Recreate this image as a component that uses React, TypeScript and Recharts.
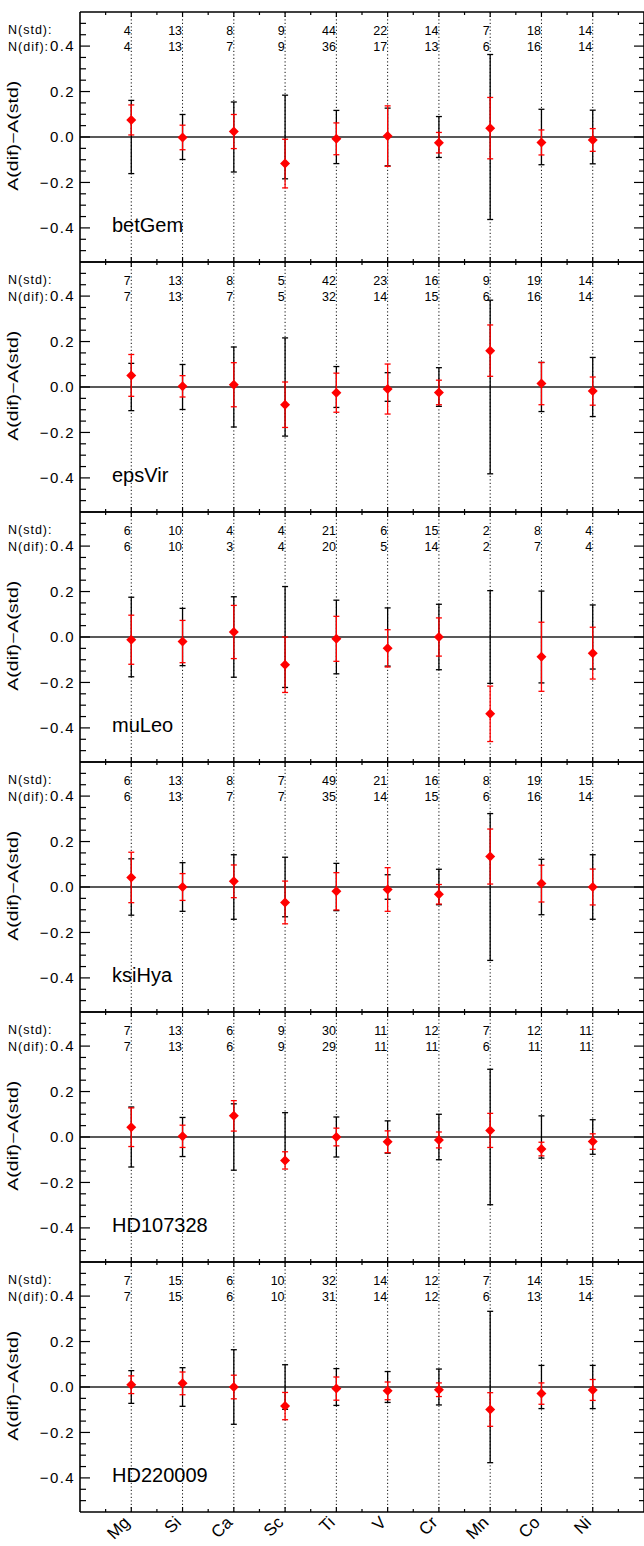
import React from 'react';
import { ComposedChart, Scatter, XAxis, YAxis, ErrorBar, ReferenceLine } from 'recharts';

const elements = ['Mg', 'Si', 'Ca', 'Sc', 'Ti', 'V', 'Cr', 'Mn', 'Co', 'Ni'];
const stars = ['betGem', 'epsVir', 'muLeo', 'ksiHya', 'HD107328', 'HD220009'];

// A(dif) - A(std), one row per star (same order as stars)
const deltaA = [
  [0.075, -0.002, 0.024, -0.117, -0.008, 0.004, -0.025, 0.039, -0.024, -0.013],
  [0.051, 0.003, 0.01, -0.078, -0.025, -0.009, -0.024, 0.16, 0.015, -0.018],
  [-0.012, -0.02, 0.022, -0.122, -0.008, -0.05, 0.0, -0.338, -0.087, -0.071],
  [0.042, 0.0, 0.025, -0.068, -0.019, -0.011, -0.032, 0.134, 0.015, 0.0],
  [0.043, 0.003, 0.093, -0.103, 0.0, -0.021, -0.013, 0.029, -0.053, -0.02],
  [0.01, 0.016, 0.0, -0.084, -0.007, -0.017, -0.012, -0.099, -0.029, -0.013],
];

// red bars: error of the differential abundance
const errDif = [
  [0.066, 0.054, 0.075, 0.107, 0.07, 0.133, 0.045, 0.135, 0.055, 0.05],
  [0.092, 0.047, 0.097, 0.1, 0.086, 0.11, 0.054, 0.113, 0.093, 0.062],
  [0.108, 0.093, 0.117, 0.122, 0.099, 0.082, 0.084, 0.122, 0.152, 0.114],
  [0.111, 0.059, 0.072, 0.094, 0.082, 0.096, 0.043, 0.121, 0.081, 0.079],
  [0.085, 0.049, 0.067, 0.038, 0.039, 0.048, 0.035, 0.075, 0.03, 0.034],
  [0.039, 0.05, 0.052, 0.06, 0.051, 0.039, 0.03, 0.074, 0.047, 0.046],
];

// black bars (around zero): error of the standard abundance
const errStd = [
  [0.161, 0.099, 0.154, 0.184, 0.117, 0.127, 0.09, 0.363, 0.122, 0.118],
  [0.104, 0.099, 0.176, 0.216, 0.09, 0.063, 0.085, 0.382, 0.108, 0.13],
  [0.175, 0.126, 0.177, 0.222, 0.162, 0.128, 0.144, 0.204, 0.202, 0.141],
  [0.124, 0.107, 0.142, 0.131, 0.104, 0.054, 0.078, 0.323, 0.122, 0.142],
  [0.132, 0.086, 0.146, 0.107, 0.088, 0.071, 0.1, 0.298, 0.093, 0.076],
  [0.072, 0.085, 0.164, 0.098, 0.081, 0.068, 0.079, 0.333, 0.095, 0.095],
];

const nStd = [
  [4, 13, 8, 9, 44, 22, 14, 7, 18, 14],
  [7, 13, 8, 5, 42, 23, 16, 9, 19, 14],
  [6, 10, 4, 4, 21, 6, 15, 2, 8, 4],
  [6, 13, 8, 7, 49, 21, 16, 8, 19, 15],
  [7, 13, 6, 9, 30, 11, 12, 7, 12, 11],
  [7, 15, 6, 10, 32, 14, 12, 7, 14, 15],
];
const nDif = [
  [4, 13, 7, 9, 36, 17, 13, 6, 16, 14],
  [7, 13, 7, 5, 32, 14, 15, 6, 16, 14],
  [6, 10, 3, 4, 20, 5, 14, 2, 7, 4],
  [6, 13, 7, 7, 35, 14, 15, 6, 16, 14],
  [7, 13, 6, 9, 29, 11, 11, 6, 11, 11],
  [7, 15, 6, 10, 31, 14, 12, 6, 13, 14],
];

const xTicks = [0.5, 1, 1.5, 2, 2.5, 3, 3.5, 4, 4.5, 5, 5.5, 6, 6.5, 7, 7.5, 8, 8.5, 9, 9.5, 10, 10.5];
const labelTicks = [1, 2, 3, 4, 5, 6, 7, 8, 9, 10];
const yTicks = [-0.5, -0.45, -0.4, -0.35, -0.3, -0.25, -0.2, -0.15, -0.1, -0.05, 0, 0.05, 0.1, 0.15, 0.2, 0.25, 0.3, 0.35, 0.4, 0.45, 0.5];

const FONT = "'Liberation Sans', Arial, Helvetica, sans-serif";
const PANEL_H = 250;
const TOP0 = 11.7;
const LEFT = 80;
const CHART_W = 645;

const isMajorY = (v: number) => Math.round(v * 100) % 20 === 0;
const isMajorX = (v: number) => Math.abs(v - Math.round(v)) < 1e-6;
const fmtY = (v: number) => (v < -1e-9 ? '\u2212' : '') + Math.abs(v).toFixed(1);

function Panel({ k }: { k: number }) {
  const last = k === stars.length - 1;
  const rows = elements.map((el, i) => ({
    x: i + 1,
    el,
    zero: 0,
    v: deltaA[k][i],
    re: errDif[k][i],
    be: errStd[k][i],
  }));

  const leftTick = (p: any) => {
    const v = p.payload.value;
    const major = isMajorY(v);
    return (
      <g>
        <line x1={p.x} x2={p.x + (major ? 10 : 6)} y1={p.y} y2={p.y} stroke="#000" strokeWidth={1.2} />
        {major && (
          <text x={p.x - 5} y={p.y + 5.4} textAnchor="end" fontSize={15} letterSpacing={1.4} fontFamily={FONT} fill="#000">
            {fmtY(v)}
          </text>
        )}
      </g>
    );
  };
  const rightTick = (p: any) => {
    const major = isMajorY(p.payload.value);
    return <line x1={p.x} x2={p.x - (major ? 10 : 5)} y1={p.y} y2={p.y} stroke="#000" strokeWidth={1.2} />;
  };
  const topTick = (p: any) => {
    const v = p.payload.value;
    const major = isMajorX(v);
    const i = Math.round(v) - 1;
    return (
      <g>
        <line x1={p.x} x2={p.x} y1={p.y} y2={p.y + (major ? 5 : 3)} stroke="#000" strokeWidth={1.2} />
        {major && (
          <g fontFamily={FONT} fontSize={12.5} fill="#000" textAnchor="end">
            <text x={p.x - 0.5} y={p.y + 22.6}>{nStd[k][i]}</text>
            <text x={p.x - 0.5} y={p.y + 39.3}>{nDif[k][i]}</text>
          </g>
        )}
      </g>
    );
  };
  const bottomTick = (p: any) => {
    const major = isMajorX(p.payload.value);
    return <line x1={p.x} x2={p.x} y1={p.y} y2={p.y - (major ? 5 : 3)} stroke="#000" strokeWidth={1.2} />;
  };

  const axisLine = { stroke: '#000', strokeWidth: 1.6 };

  return (
    <div style={{ position: 'absolute', left: 0, top: TOP0 + PANEL_H * k - 1 }}>
      <ComposedChart width={CHART_W} height={PANEL_H + 2 + (last ? 43 : 0)} data={rows} margin={{ top: 0, right: 0, bottom: 0, left: 0 }}>
        <XAxis xAxisId="b" type="number" dataKey="x" domain={[0, 11]} ticks={xTicks} interval={0} orientation="bottom"
          height={1} tickSize={0} tickMargin={0} tickLine={false} axisLine={axisLine} tick={bottomTick} allowDataOverflow />
        {last && (
          <XAxis xAxisId="lab" type="number" dataKey="x" domain={[0, 11]} ticks={labelTicks} interval={0} orientation="bottom"
            height={43} tickSize={0} tickMargin={0} tickLine={false} axisLine={false} allowDataOverflow
            angle={-45} textAnchor="end" tickFormatter={(v: number) => elements[Math.round(v) - 1]}
            tick={{ fontSize: 17, fontFamily: FONT, fill: '#000', dx: -9, dy: 2 }} />
        )}
        <XAxis xAxisId="t" type="number" dataKey="x" domain={[0, 11]} ticks={xTicks} interval={0} orientation="top"
          height={1} tickSize={0} tickMargin={0} tickLine={false} axisLine={axisLine} tick={topTick} allowDataOverflow />
        <YAxis yAxisId="l" type="number" domain={[-0.55, 0.55]} ticks={yTicks} interval={0} width={LEFT}
          tickSize={0} tickMargin={0} tickLine={false} axisLine={axisLine} tick={leftTick} allowDataOverflow />
        <YAxis yAxisId="r" type="number" orientation="right" domain={[-0.55, 0.55]} ticks={yTicks} interval={0} width={1}
          tickSize={0} tickMargin={0} tickLine={false} axisLine={axisLine} tick={rightTick} allowDataOverflow />

        {elements.map((el, i) => (
          <ReferenceLine key={el} xAxisId="b" yAxisId="l" x={i + 1} stroke="#111" strokeWidth={1} strokeDasharray="1.2 2.3" />
        ))}
        <ReferenceLine xAxisId="b" yAxisId="l" y={0} stroke="#222" strokeWidth={1.4} />

        {last && <Scatter xAxisId="lab" yAxisId="l" dataKey="zero" isAnimationActive={false} shape={() => <g />} />}
        <Scatter xAxisId="t" yAxisId="r" dataKey="zero" isAnimationActive={false} shape={() => <g />}>
          <ErrorBar dataKey="be" direction="y" width={3} stroke="#000" strokeWidth={1.3} isAnimationActive={false} />
        </Scatter>
        <Scatter
          xAxisId="b"
          yAxisId="l"
          dataKey="v"
          isAnimationActive={false}
          shape={(p: any) => (
            <polygon
              points={`${p.cx},${p.cy - 5} ${p.cx + 5},${p.cy} ${p.cx},${p.cy + 5} ${p.cx - 5},${p.cy}`}
              fill="#ff0000"
            />
          )}
        >
          <ErrorBar dataKey="re" direction="y" width={3} stroke="#ff0000" strokeWidth={1.3} isAnimationActive={false} />
        </Scatter>
      </ComposedChart>
    </div>
  );
}

export default function App() {
  return (
    <div style={{ position: 'absolute', left: 0, top: 0, width: 644, height: 1546, overflow: 'hidden', background: '#fff' }}>
      {stars.map((s, k) => (
        <Panel key={s} k={k} />
      ))}
      <svg width={644} height={1546} style={{ position: 'absolute', left: 0, top: 0, pointerEvents: 'none' }}>
        {stars.map((s, k) => {
          const T = TOP0 + PANEL_H * k;
          return (
            <g key={s} fontFamily={FONT} fill="#000">
              <text x={8} y={T + 22.6} fontSize={12.5} letterSpacing={1}>N(std):</text>
              <text x={8} y={T + 39.3} fontSize={12.5} letterSpacing={1}>N(dif):</text>
              <text
                transform={`translate(18,${T + 124}) rotate(-90)`}
                textAnchor="middle"
                fontSize={14}
                textLength={110}
                lengthAdjust="spacingAndGlyphs"
              >
                A(dif)−A(std)
              </text>
              <text x={112} y={T + 220} fontSize={20}>{s}</text>
            </g>
          );
        })}
      </svg>
    </div>
  );
}
